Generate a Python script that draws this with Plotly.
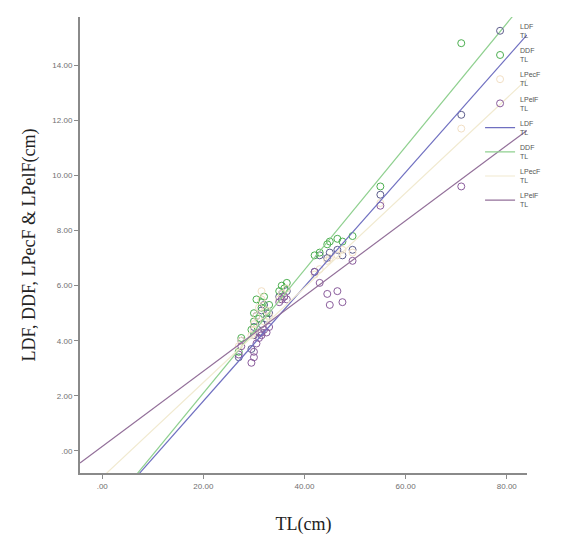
import plotly.graph_objects as go

# Morphometric measurements of fish (cm) against total length
tl = [27.0, 27.5, 29.5, 30.0, 30.0, 30.5, 31.0, 31.5, 31.5, 32.0, 32.5, 33.0,
      35.0, 35.5, 36.0, 36.5, 42.0, 43.0, 44.5, 45.0, 46.5, 47.5, 49.5, 55.0, 71.0]
ldf = [3.4, 4.0, 3.7, 4.2, 4.5, 4.9, 4.3, 5.1, 4.6, 5.3, 4.8, 5.0,
       5.6, 5.7, 5.6, 5.8, 6.5, 7.1, 7.0, 7.2, 7.3, 7.1, 7.3, 9.3, 12.2]
ddf = [3.6, 4.1, 4.4, 4.7, 5.0, 5.5, 4.8, 5.2, 5.4, 5.6, 5.0, 5.3,
       5.8, 6.0, 5.9, 6.1, 7.1, 7.2, 7.5, 7.6, 7.7, 7.6, 7.8, 9.6, 14.8]
lpecf = [3.8, 4.0, 4.2, 4.4, 4.6, 4.9, 5.2, 5.5, 5.8, 4.7, 5.1, 4.9,
         5.5, 5.7, 5.6, 5.9, 6.4, 6.6, 6.9, 7.0, 7.1, 7.3, 7.2, 9.0, 11.7]
lpelf = [3.5, 3.8, 3.2, 3.4, 3.6, 3.9, 4.1, 4.2, 4.3, 4.4, 4.3, 4.5,
         5.4, 5.5, 5.6, 5.5, 6.5, 6.1, 5.7, 5.3, 5.8, 5.4, 6.9, 8.9, 9.6]

series_names = ["LDF", "DDF", "LPecF", "LPelF"]
series_values = [ldf, ddf, lpecf, lpelf]

# Linear fit lines (intercept, slope) for each measurement vs TL
fit_intercepts = [-2.34, -2.37, -0.955, 0.167]
fit_slopes = [0.2076, 0.2236, 0.172, 0.1365]

marker_colors = ["#5d5d8c", "#4caf50", "#f2dfc4", "#8a5c9c"]
line_colors = ["#6f6fc0", "#8fd08f", "#f1ead0", "#93709a"]

x_ticks = [0, 20, 40, 60, 80]
x_tick_labels = [".00", "20.00", "40.00", "60.00", "80.00"]
y_ticks = [0, 2, 4, 6, 8, 10, 12, 14]
y_tick_labels = [".00", "2.00", "4.00", "6.00", "8.00", "10.00", "12.00", "14.00"]

x_range = [-4.4, 84.0]
y_range = [-0.8, 15.75]

fig = go.Figure()

for i, (name, vals) in enumerate(zip(series_names, series_values)):
    fig.add_trace(go.Scatter(
        x=tl, y=vals, mode="markers", name=f"{name}<br>TL",
        legendgroup=f"m{i}",
        marker=dict(symbol="circle-open", size=7,
                    color=marker_colors[i], line=dict(width=1)),
    ))

for i, name in enumerate(series_names):
    xs = x_range
    ys = [fit_intercepts[i] + fit_slopes[i] * v for v in xs]
    fig.add_trace(go.Scatter(
        x=xs, y=ys, mode="lines", name=f"{name}<br>TL",
        legendgroup=f"l{i}",
        line=dict(color=line_colors[i], width=1.2),
    ))

axis_common = dict(
    showline=True, linecolor="#8a8a8a", linewidth=2,
    ticks="outside", ticklen=4, tickcolor="#8a8a8a", tickwidth=1,
    showgrid=False, zeroline=False,
    tickfont=dict(family="Liberation Sans", size=8, color="#707070"),
)

fig.update_layout(
    width=572, height=543,
    margin=dict(l=80, r=45, t=17, b=65),
    paper_bgcolor="white", plot_bgcolor="white",
    xaxis=dict(range=x_range, tickvals=x_ticks, ticktext=x_tick_labels,
               title=dict(text="TL(cm)", standoff=28,
                          font=dict(family="Liberation Serif", size=18, color="#222")),
               **axis_common),
    yaxis=dict(range=y_range, tickvals=y_ticks, ticktext=y_tick_labels,
               title=dict(text="LDF, DDF, LPecF & LPelF(cm)", standoff=12,
                          font=dict(family="Liberation Serif", size=18, color="#222")),
               **axis_common),
    legend=dict(x=0.895, y=1.004, xanchor="left", yanchor="top",
                bgcolor="rgba(0,0,0,0)", tracegroupgap=3, itemwidth=30,
                font=dict(family="Liberation Sans", size=7, color="#555")),
)

fig.write_html("out.html")
